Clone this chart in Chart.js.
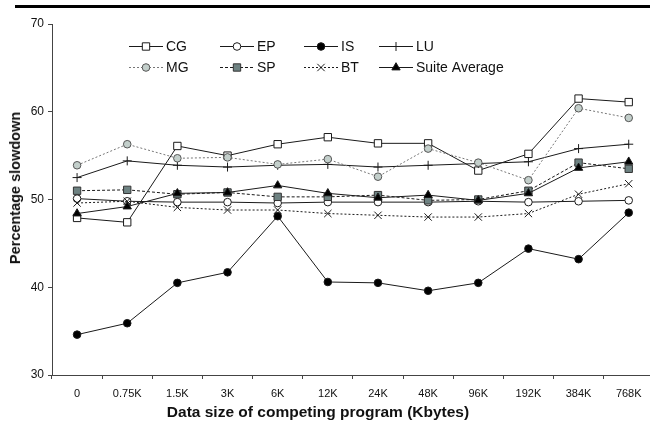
<!DOCTYPE html>
<html>
<head>
<meta charset="utf-8">
<script src="https://cdn.jsdelivr.net/npm/chart.js@4/dist/chart.umd.min.js"></script>
<style>
  html, body { margin: 0; padding: 0; background: #fff; overflow: hidden; }
  #wrap { position: relative; width: 650px; height: 428px; overflow: hidden; }
  #topRule { position: absolute; left: 15px; top: 5px; width: 640px; height: 3px; background: #000; }
  .axTitle { position: absolute; font-family: "Liberation Sans", Arial, sans-serif; font-weight: bold; color: #111; white-space: nowrap; }
  #xTitle { left: 318px; top: 412px; font-size: 15.5px; transform: translate(-50%, -50%); }
  #yTitle { left: 15px; top: 188px; font-size: 14.5px; transform: translate(-50%, -50%) rotate(-90deg); }
</style>
</head>
<body>
<div id="wrap">
  <canvas id="miGrafico" width="660" height="428"></canvas>
  <div id="topRule"></div>
  <div class="axTitle" id="xTitle">Data size of competing program (Kbytes)</div>
  <div class="axTitle" id="yTitle">Percentage slowdown</div>
</div>
<script>
// datos
const categories = ['0', '0.75K', '1.5K', '3K', '6K', '12K', '24K', '48K', '96K', '192K', '384K', '768K']
const yTicks = [30, 40, 50, 60, 70]

const cgData = [47.9, 47.4, 56.1, 55.0, 56.3, 57.1, 56.4, 56.4, 53.3, 55.2, 61.5, 61.1]
const epData = [50.1, 49.8, 49.7, 49.7, 49.6, 49.7, 49.7, 49.7, 49.8, 49.7, 49.8, 49.9]
const isData = [34.6, 35.9, 40.5, 41.7, 48.1, 40.6, 40.5, 39.6, 40.5, 44.4, 43.2, 48.5]
const luData = [52.5, 54.4, 53.9, 53.7, 53.9, 54.0, 53.7, 53.9, 54.1, 54.3, 55.8, 56.3]
const mgData = [53.9, 56.3, 54.7, 54.8, 54.0, 54.6, 52.6, 55.8, 54.2, 52.2, 60.4, 59.3]
const spData = [51.0, 51.1, 50.6, 50.8, 50.3, 50.3, 50.5, 49.9, 50.0, 51.0, 54.2, 53.5]
const btData = [49.6, 49.8, 49.1, 48.8, 48.8, 48.4, 48.2, 48.0, 48.0, 48.4, 50.6, 51.8]
const avgData = [48.4, 49.2, 50.7, 50.8, 51.6, 50.7, 50.2, 50.5, 49.9, 50.7, 53.6, 54.3]

const FONT = '"Liberation Sans", Arial, sans-serif'
Chart.defaults.font.family = FONT
Chart.defaults.color = '#111'

const serie = (label, data, opts) => {
  return Object.assign({
    label: label,
    data: data,
    borderColor: '#1a1a1a',
    borderWidth: 1,
    pointBorderColor: '#1a1a1a',
    pointBackgroundColor: '#fff',
    pointBorderWidth: 1,
    pointRadius: 4,
    pointHoverRadius: 4,
    tension: 0,
    fill: false,
  }, opts)
}

const datasets = [
  serie('CG', cgData, { pointStyle: 'rect', pointRadius: 5.2 }),
  serie('EP', epData, { pointStyle: 'circle', pointRadius: 3.8 }),
  serie('IS', isData, { pointStyle: 'circle', pointRadius: 3.8, pointBackgroundColor: '#000' }),
  serie('LU', luData, { pointStyle: 'cross', pointRadius: 4.5 }),
  serie('MG', mgData, { pointStyle: 'circle', pointRadius: 3.8, borderColor: '#777', borderDash: [2, 2], pointBackgroundColor: '#c3cfcb', pointBorderColor: '#555' }),
  serie('SP', spData, { pointStyle: 'rect', pointRadius: 5.2, borderDash: [3, 2], pointBackgroundColor: '#6e8282', pointBorderColor: '#333' }),
  serie('BT', btData, { pointStyle: 'crossRot', pointRadius: 5.2, borderDash: [2, 2] }),
  serie('Suite Average', avgData, { pointStyle: 'triangle', pointRadius: 4.8, pointBackgroundColor: '#000' }),
]
// el ultimo encima
datasets.forEach((ds, i) => { ds.order = datasets.length - 1 - i })

// leyenda de dos filas dentro del area del grafico
const legendBoxes = {
  id: 'legendBoxes',
  afterDraw(chart) {
    const ctx = chart.ctx
    const colX = [129, 220, 304, 379]
    const rowY = [46, 67]
    chart.data.datasets.forEach((ds, i) => {
      const x = colX[i % 4]
      const y = rowY[Math.floor(i / 4)]
      ctx.save()
      ctx.strokeStyle = ds.borderColor
      ctx.lineWidth = 1
      ctx.setLineDash(ds.borderDash || [])
      ctx.beginPath()
      ctx.moveTo(x, y + 0.5)
      ctx.lineTo(x + 34, y + 0.5)
      ctx.stroke()
      ctx.setLineDash([])
      ctx.fillStyle = ds.pointBackgroundColor
      ctx.strokeStyle = ds.pointBorderColor
      Chart.helpers.drawPoint(ctx, {
        pointStyle: ds.pointStyle,
        radius: ds.pointRadius,
        rotation: 0,
        borderWidth: 1,
      }, x + 17, y + 0.5)
      ctx.fillStyle = '#111'
      ctx.font = '14px ' + FONT
      ctx.textBaseline = 'middle'
      ctx.fillText(ds.label, x + 37, y + 1)
      ctx.restore()
    })
  },
}

const ctx = document.getElementById('miGrafico').getContext('2d')
const myChart = new Chart(ctx, {
  type: 'line',
  data: {
    labels: categories,
    datasets: datasets,
  },
  options: {
    responsive: false,
    animation: false,
    devicePixelRatio: 1,
    layout: { padding: { top: 24, right: 4, left: 0, bottom: 0 } },
    plugins: {
      legend: { display: false },
      tooltip: { enabled: false },
    },
    scales: {
      x: {
        type: 'category',
        offset: true,
        grid: { offset: true, drawOnChartArea: false, drawTicks: true, tickLength: 4, color: '#444' },
        border: { color: '#444', width: 1 },
        ticks: { font: { size: 11 }, color: '#111', padding: 8, maxRotation: 0, autoSkip: false },
        afterFit: (scale) => { scale.height = 53 },
      },
      y: {
        min: 30,
        max: 70,
        afterBuildTicks: (scale) => { scale.ticks = yTicks.map((v) => ({ value: v })) },
        grid: { drawOnChartArea: false, drawTicks: true, tickLength: 4, color: '#444' },
        border: { color: '#444', width: 1 },
        ticks: { font: { size: 12 }, color: '#111', padding: 4 },
        afterFit: (scale) => { scale.width = 52 },
      },
    },
  },
  plugins: [legendBoxes],
})
</script>
</body>
</html>
